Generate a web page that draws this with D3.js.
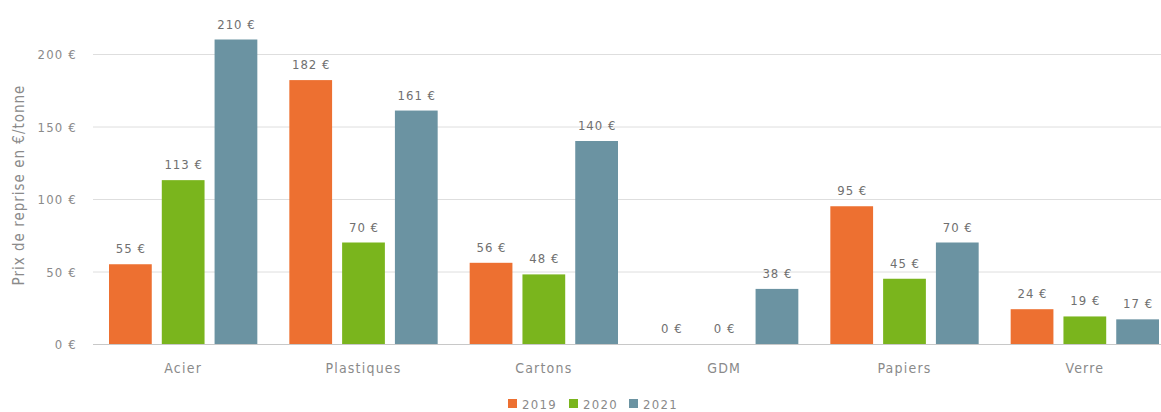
<!DOCTYPE html>
<html><head><meta charset="utf-8">
<script src="https://cdn.jsdelivr.net/npm/d3@7"></script>
<style>body{margin:0;background:#fff;}svg{display:block;}text{font-family:"DejaVu Sans Condensed","DejaVu Sans",sans-serif;}</style>
</head><body><svg id="c" width="1161" height="412"></svg>
<script>
const categories = ["Acier","Plastiques","Cartons","GDM","Papiers","Verre"];
const seriesNames = ["2019","2020","2021"];
const values2019 = [55,182,56,0,95,24];
const values2020 = [113,70,48,0,45,19];
const values2021 = [210,161,140,38,70,17];
const yTicks = [0,50,100,150,200];
const colors = ["#ED7031","#7AB51D","#6B93A2"];
const yTitle = "Prix de reprise en €/tonne";

const series = [values2019, values2020, values2021];
const svg = d3.select("#c");
const W = 1161, H = 412;
const x0 = d3.scaleBand().domain(categories).range([93,1175]).padding(0);
const x1 = d3.scaleBand().domain(seriesNames).range([16, x0.bandwidth()-16]).paddingInner(0.19).paddingOuter(0);
const y = d3.scaleLinear().domain([0,200]).range([344,54]);
const fmt = v => v + " €";
const txt = "#8a8a8a";

// grid
svg.append("g").selectAll("line").data(yTicks).join("line")
  .attr("x1",93).attr("x2",W).attr("y1",d=>y(d)+0.5).attr("y2",d=>y(d)+0.5)
  .attr("stroke",d=>d===0?"#c8c8c8":"#dedede").attr("stroke-width",1);
svg.append("g").selectAll("text").data(yTicks).join("text")
  .attr("x",77).attr("y",d=>y(d)+5).attr("text-anchor","end")
  .attr("font-size",13).attr("letter-spacing",1.2).attr("fill",txt).text(fmt);

// y title
svg.append("text").attr("transform","translate(24,185) rotate(-90)")
  .attr("text-anchor","middle").attr("font-size",15).attr("letter-spacing",1).attr("fill",txt).text(yTitle);

// bars
const g = svg.append("g");
categories.forEach((c,i)=>{
  seriesNames.forEach((s,j)=>{
    const v = series[j][i];
    const bx = x0(c)+x1(s);
    g.append("rect").attr("x",bx).attr("y",y(v)).attr("width",x1.bandwidth())
      .attr("height",y(0)-y(v)).attr("fill",colors[j]);
    g.append("text").attr("x",bx+x1.bandwidth()/2+0.5).attr("y",y(v)-11)
      .attr("text-anchor","middle").attr("font-size",13).attr("letter-spacing",1).attr("fill","#707070").text(fmt(v));
  });
});

// x labels
svg.append("g").selectAll("text").data(categories).join("text")
  .attr("x",d=>x0(d)+x0.bandwidth()/2).attr("y",373).attr("text-anchor","middle")
  .attr("font-size",14).attr("letter-spacing",1.2).attr("fill",txt).text(d=>d);

// legend
const lg = svg.append("g");
const lx = [508,569,629];
seriesNames.forEach((s,j)=>{
  lg.append("rect").attr("x",lx[j]).attr("y",399).attr("width",9).attr("height",9).attr("fill",colors[j]);
  lg.append("text").attr("x",lx[j]+14).attr("y",408.5).attr("font-size",13).attr("letter-spacing",1.3).attr("fill",txt).text(s);
});
</script></body></html>
